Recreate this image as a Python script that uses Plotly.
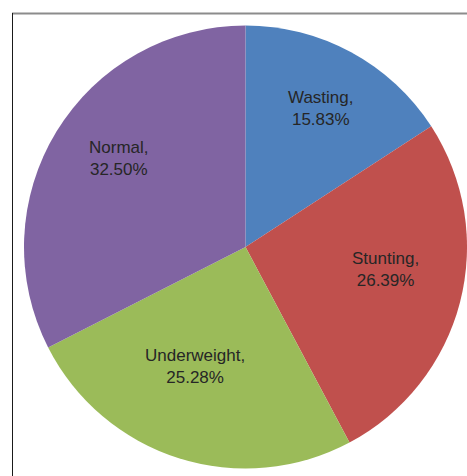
import math
import plotly.graph_objects as go

categories = ["Wasting", "Stunting", "Underweight", "Normal"]
values = [15.83, 26.39, 25.28, 32.50]
colors = ["#4F81BD", "#C0504D", "#9BBB59", "#8064A2"]

# label placement (fraction of radius, angular shift in degrees from slice middle)
label_radius = [0.713, 0.64, 0.583, 0.698]
label_shift = [0.0, -5.2, 5.3, 3.6]

W, H = 467, 476
CX, CY, R = 245.5, 247.0, 221.5  # pixel geometry of the pie domain below

fig = go.Figure(go.Pie(
    labels=categories,
    values=values,
    textinfo="none",
    sort=False,
    direction="clockwise",
    rotation=0,
    marker=dict(colors=colors, line=dict(width=0)),
    domain=dict(x=[24 / W, 1.0], y=[(H - 470) / H, (H - 24) / H]),
    showlegend=False,
    hoverinfo="label+percent",
))

total = sum(values)
annotations = []
cum = 0.0
for c, v, rf, sh in zip(categories, values, label_radius, label_shift):
    mid = (cum + v / 2) / total * 360.0 + sh
    cum += v
    a = math.radians(mid)
    px = CX + rf * R * math.sin(a)
    py = CY - rf * R * math.cos(a)
    annotations.append(dict(
        x=px / W, y=1 - py / H, xref="paper", yref="paper",
        text=f"{c},<br>{v:.2f}%", showarrow=False,
        xanchor="center", yanchor="middle", align="center",
        font=dict(family="Liberation Sans, Arial, sans-serif", size=17, color="#262626"),
    ))

fig.update_layout(
    width=W, height=H,
    margin=dict(l=0, r=0, t=0, b=0),
    paper_bgcolor="white",
    plot_bgcolor="white",
    annotations=annotations,
    shapes=[
        dict(type="line", xref="paper", yref="paper",
             x0=12 / W, x1=1.0, y0=(H - 13.5) / H, y1=(H - 13.5) / H,
             line=dict(color="#8C8C8C", width=2)),
        dict(type="line", xref="paper", yref="paper",
             x0=12.5 / W, x1=12.5 / W, y0=0, y1=(H - 13) / H,
             line=dict(color="#1A1A1A", width=1)),
    ],
)

fig.write_html("out.html")
